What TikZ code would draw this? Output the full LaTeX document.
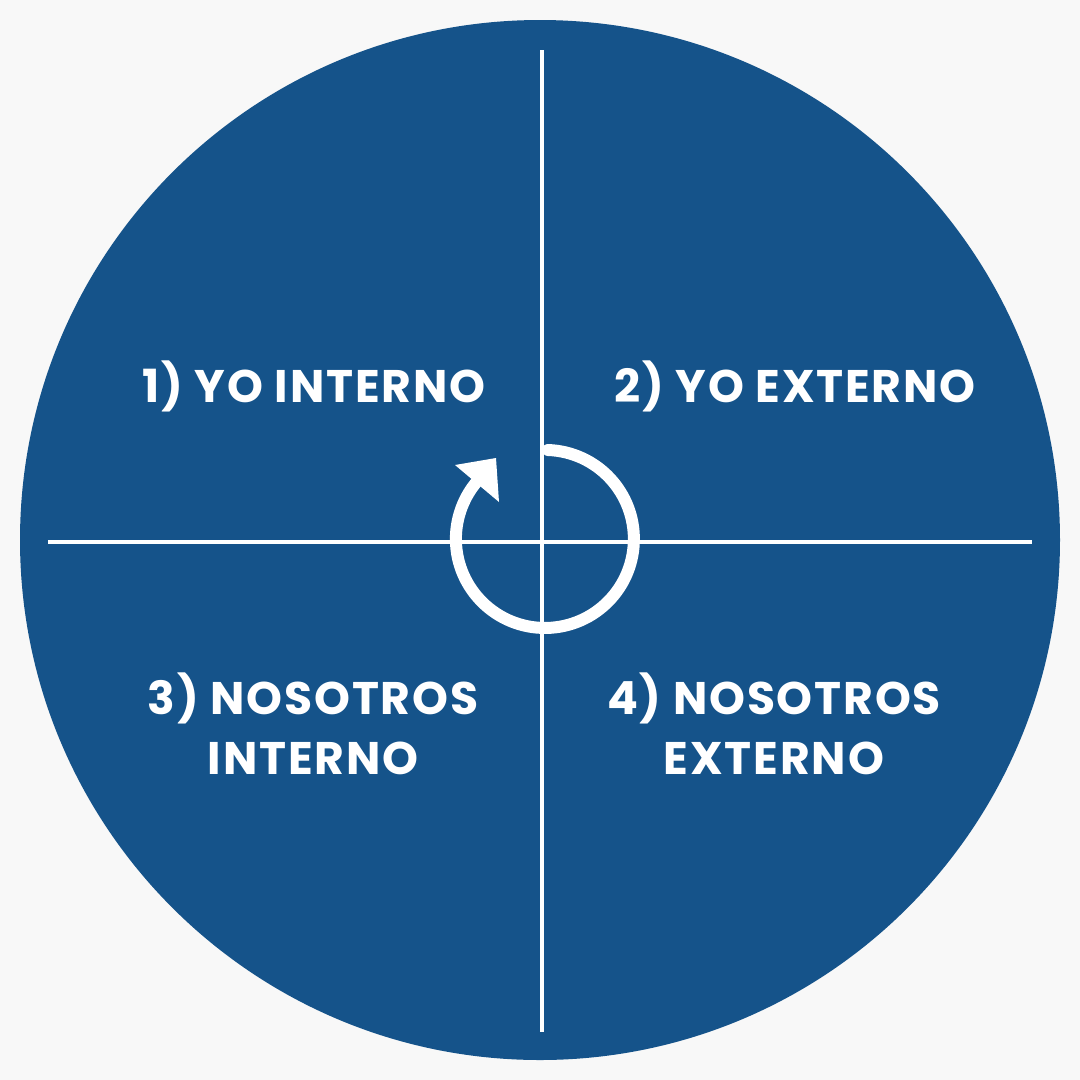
\documentclass[tikz,border=0pt]{standalone}
\usepackage{fontspec}
\setmainfont{Poppins}[UprightFont=* Bold, LetterSpace=4]
\usepackage{tikz}
\usetikzlibrary{positioning}

\definecolor{bgGray}{HTML}{F8F8F8}
\definecolor{quadBlue}{HTML}{15538A}

\begin{document}
\begin{tikzpicture}[x=0.02cm, y=-0.02cm,
    every node/.style={align=center, text=white, font=\fontsize{26}{34}\selectfont},
    axis/.style={draw=white, line width=4.5*0.02cm},
    cycle/.style={draw=white, line width=12*0.02cm, line cap=round}]
            % fondo y circulo
            \fill[bgGray] (0,0) rectangle (1080,1080);
            \useasboundingbox (0,0) rectangle (1080,1080);
            \fill[quadBlue] (540,540) circle (520);

            % ejes
            \coordinate (top) at (542,50);
            \coordinate (bottom) at (542,1032);
            \coordinate (left) at (48,542);
            \coordinate (right) at (1032,542);
            \draw[axis] (top) -- (bottom);
            \draw[axis] (left) -- (right);

            % flecha circular
            \coordinate (hub) at (545,540);
            \draw[cycle] (548,450) arc[start angle=-88, end angle=220, radius=89];
            \fill[white] (455,465) -- (496,458) -- (499,502) -- cycle;

            % cuadrantes
            \node (yoInt) at (314,386) {1) YO INTERNO};
            \node (yoExt) at (795,386) {2) YO EXTERNO};
            \node (nosInt) at (313,724) {3) NOSOTROS\\INTERNO};
            \node (nosExt) at (774,724) {4) NOSOTROS\\EXTERNO};
        \end{tikzpicture}
\end{document}
